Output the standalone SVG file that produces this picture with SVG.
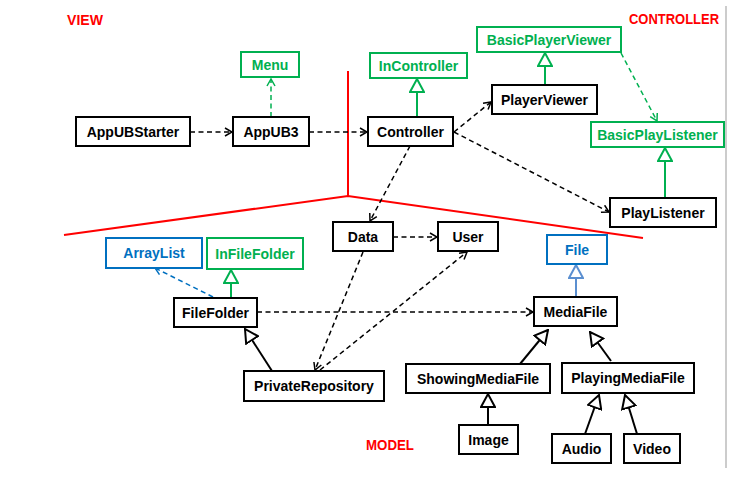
<svg xmlns="http://www.w3.org/2000/svg" width="750" height="493" viewBox="0 0 750 493">
<style>
text{font-family:"Liberation Sans",Arial,sans-serif;font-weight:bold;font-size:14px;text-anchor:middle}
.k rect{fill:#fff;stroke:#000;stroke-width:2}
.g rect{fill:#fff;stroke:#00B050;stroke-width:2}
.g text{fill:#00B050}
.b rect{fill:#fff;stroke:#0070C0;stroke-width:2}
.b text{fill:#0070C0}
.lbl{fill:#FF0000;text-anchor:start;font-size:15px}
.dk{stroke:#000;stroke-width:1.5;fill:none;stroke-dasharray:5 3.5;marker-end:url(#openK)}
.dg{stroke:#00B050;stroke-width:1.5;fill:none;stroke-dasharray:5 3.5;marker-end:url(#openG)}
.db{stroke:#0070C0;stroke-width:1.5;fill:none;stroke-dasharray:5 3.5;marker-end:url(#openB)}
.ig{stroke:#00B050;stroke-width:2;fill:none;marker-end:url(#triG)}
.ik{stroke:#000;stroke-width:2;fill:none;marker-end:url(#triK)}
.ib{stroke:#5B8FD0;stroke-width:2;fill:none;marker-end:url(#triB)}
</style>
<defs>
<marker id="openK" markerUnits="userSpaceOnUse" viewBox="0 0 9 10" refX="8" refY="5" markerWidth="9" markerHeight="10" orient="auto"><path d="M1,1 L8,5 L1,9" fill="none" stroke="#000" stroke-width="1.5"/></marker>
<marker id="openG" markerUnits="userSpaceOnUse" viewBox="0 0 9 10" refX="8" refY="5" markerWidth="9" markerHeight="10" orient="auto"><path d="M1,1 L8,5 L1,9" fill="none" stroke="#00B050" stroke-width="1.5"/></marker>
<marker id="openB" markerUnits="userSpaceOnUse" viewBox="0 0 9 10" refX="8" refY="5" markerWidth="9" markerHeight="10" orient="auto"><path d="M1,1 L8,5 L1,9" fill="none" stroke="#0070C0" stroke-width="1.5"/></marker>
<marker id="triG" markerUnits="userSpaceOnUse" viewBox="0 0 15 16" refX="14" refY="8" markerWidth="15" markerHeight="16" orient="auto"><path d="M1,1 L14,8 L1,15 Z" fill="#fff" stroke="#00B050" stroke-width="2"/></marker>
<marker id="triK" markerUnits="userSpaceOnUse" viewBox="0 0 15 16" refX="14" refY="8" markerWidth="15" markerHeight="16" orient="auto"><path d="M1,1 L14,8 L1,15 Z" fill="#fff" stroke="#000" stroke-width="2"/></marker>
<marker id="triB" markerUnits="userSpaceOnUse" viewBox="0 0 15 16" refX="14" refY="8" markerWidth="15" markerHeight="16" orient="auto"><path d="M1,1 L14,8 L1,15 Z" fill="#fff" stroke="#5B8FD0" stroke-width="2"/></marker>
</defs>
<rect width="750" height="493" fill="#fff"/>
<g id="dividers">
<line x1="726" y1="6" x2="726" y2="468" stroke="#999" stroke-width="1"/>
<polyline points="348,71 348,196" fill="none" stroke="#FF0000" stroke-width="2"/>
<polyline points="64,235 348,196 643,238" fill="none" stroke="#FF0000" stroke-width="2"/>
</g>
<g id="labels">
<text class="lbl" x="67" y="25" textLength="36" lengthAdjust="spacingAndGlyphs">VIEW</text>
<text class="lbl" x="629" y="24" textLength="90" lengthAdjust="spacingAndGlyphs">CONTROLLER</text>
<text class="lbl" x="366" y="450" textLength="48" lengthAdjust="spacingAndGlyphs">MODEL</text>
</g>
<g id="connectors">
<path class="dk" d="M190,132 L232,132"/>
<path class="dk" d="M309,132 L367,132"/>
<path class="dg" d="M271,117 L271,79"/>
<path class="ig" d="M417,117 L417,79"/>
<path class="dk" d="M454,132 L491,102"/>
<path class="dk" d="M454,132 L609,212"/>
<path class="ig" d="M545,85 L545,53"/>
<path class="dg" d="M621,53 L657,121"/>
<path class="ig" d="M665,198 L665,148"/>
<path class="dk" d="M410,146 L370,221"/>
<path class="dk" d="M393,237 L437,237"/>
<path class="dk" d="M363,252 L315,370"/>
<path class="dk" d="M320,370 L467,252"/>
<path class="db" d="M213,297 L155,268"/>
<path class="ig" d="M231,298 L231,270"/>
<path class="dk" d="M257,312 L533,312"/>
<path class="ik" d="M272,371 L245,329"/>
<path class="ib" d="M576,297 L576,265"/>
<path class="ik" d="M520,364 L548,330"/>
<path class="ik" d="M611,361 L590,332"/>
<path class="ik" d="M488,425 L488,394"/>
<path class="ik" d="M585,434 L599,395"/>
<path class="ik" d="M637,434 L625,395"/>
</g>
<g id="Menu" class="g"><rect x="241" y="52" width="58" height="25"/><text x="270" y="69.5">Menu</text></g>
<g id="InController" class="g"><rect x="370" y="53" width="97" height="25"/><text x="418.5" y="70.5">InController</text></g>
<g id="BasicPlayerViewer" class="g"><rect x="477" y="27" width="144" height="25"/><text x="549" y="44.5">BasicPlayerViewer</text></g>
<g id="BasicPlayListener" class="g"><rect x="591" y="122" width="133" height="25"/><text x="657.5" y="139.5">BasicPlayListener</text></g>
<g id="AppUBStarter" class="k"><rect x="76" y="117" width="114" height="29"/><text x="133" y="136.5">AppUBStarter</text></g>
<g id="AppUB3" class="k"><rect x="233" y="117" width="76" height="29"/><text x="271" y="136.5">AppUB3</text></g>
<g id="Controller" class="k"><rect x="368" y="117" width="85" height="29"/><text x="410.5" y="136.5">Controller</text></g>
<g id="PlayerViewer" class="k"><rect x="492" y="85" width="105" height="29"/><text x="544.5" y="104.5">PlayerViewer</text></g>
<g id="PlayListener" class="k"><rect x="610" y="198" width="106" height="29"/><text x="663" y="217.5">PlayListener</text></g>
<g id="Data" class="k"><rect x="333" y="222" width="60" height="29"/><text x="363" y="241.5">Data</text></g>
<g id="User" class="k"><rect x="438" y="222" width="60" height="29"/><text x="468" y="241.5">User</text></g>
<g id="ArrayList" class="b"><rect x="106" y="238" width="96" height="30"/><text x="154" y="258">ArrayList</text></g>
<g id="InFileFolder" class="g"><rect x="207" y="238" width="96" height="31"/><text x="255" y="258.5">InFileFolder</text></g>
<g id="File" class="b"><rect x="547" y="235" width="60" height="29"/><text x="577" y="254.5">File</text></g>
<g id="FileFolder" class="k"><rect x="174" y="298" width="83" height="29"/><text x="215.5" y="317.5">FileFolder</text></g>
<g id="MediaFile" class="k"><rect x="534" y="297" width="83" height="29"/><text x="575.5" y="316.5">MediaFile</text></g>
<g id="PrivateRepository" class="k"><rect x="244" y="371" width="140" height="30"/><text x="314" y="391">PrivateRepository</text></g>
<g id="ShowingMediaFile" class="k"><rect x="406" y="364" width="144" height="29"/><text x="478" y="383.5">ShowingMediaFile</text></g>
<g id="PlayingMediaFile" class="k"><rect x="562" y="363" width="132" height="30"/><text x="628" y="383">PlayingMediaFile</text></g>
<g id="Image" class="k"><rect x="459" y="425" width="59" height="29"/><text x="488.5" y="444.5">Image</text></g>
<g id="Audio" class="k"><rect x="552" y="434" width="59" height="29"/><text x="581.5" y="453.5">Audio</text></g>
<g id="Video" class="k"><rect x="624" y="434" width="56" height="29"/><text x="652" y="453.5">Video</text></g>
</svg>
